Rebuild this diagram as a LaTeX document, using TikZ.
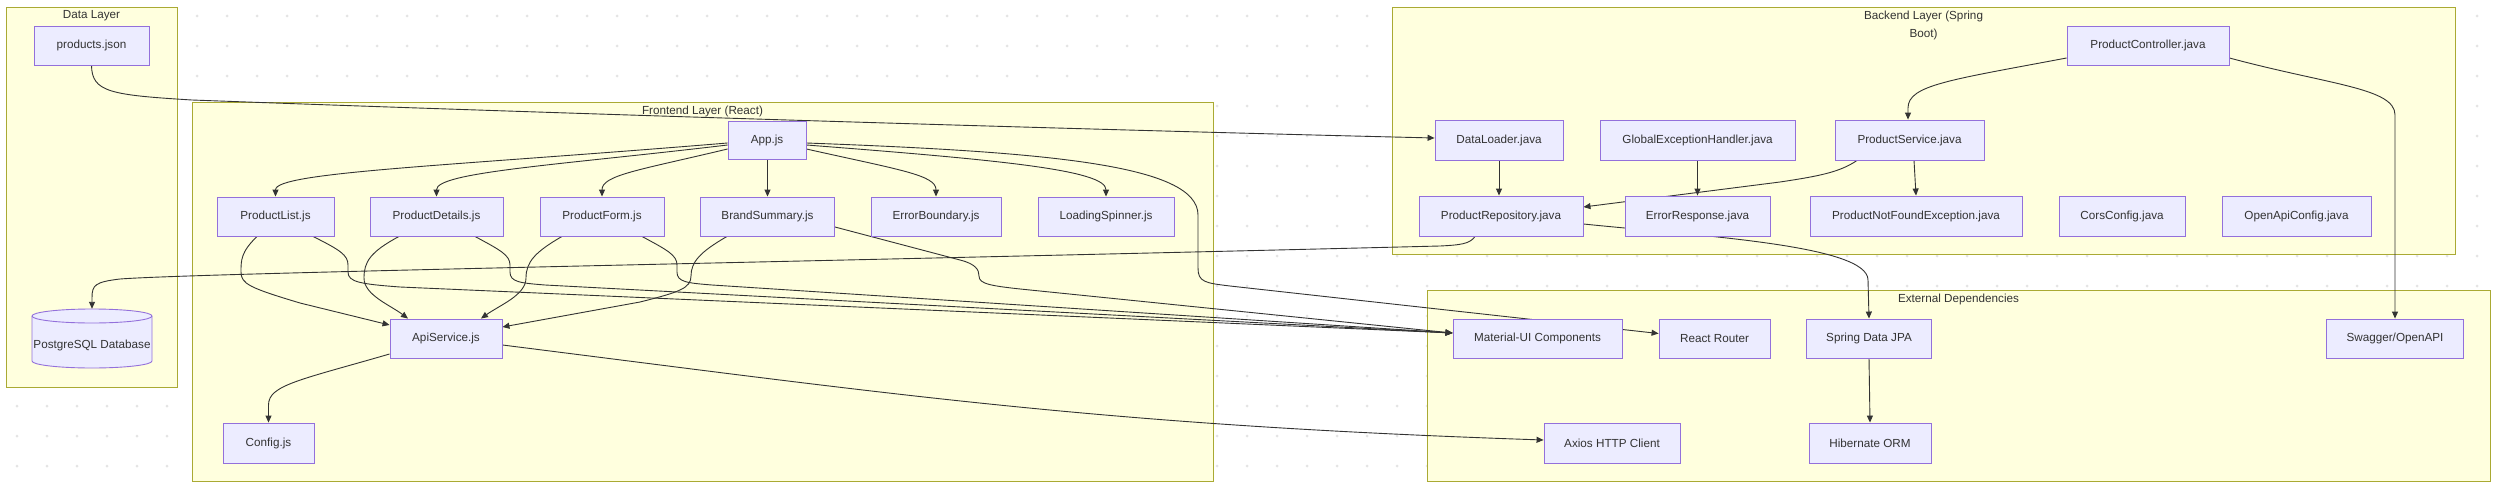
\documentclass[tikz,border=0pt]{standalone}
\usepackage{fontspec}
\setmainfont{Liberation Sans}
\usetikzlibrary{arrows.meta}
\definecolor{nodefill}{HTML}{ECECFF}
\definecolor{nodeline}{HTML}{9370DB}
\definecolor{clfill}{HTML}{FFFFDE}
\definecolor{clline}{HTML}{AAAA33}
\definecolor{edgecol}{HTML}{333333}
\definecolor{txt}{HTML}{333333}
\definecolor{dotcol}{HTML}{E4E4E4}
\pgfdeclarelayer{bg}
\pgfdeclarelayer{edgelayer}
\pgfsetlayers{bg,edgelayer,main}
\tikzset{
  lbl/.style={text=txt, font=\fontsize{11.7}{18}\selectfont},
  box/.style={lbl, draw=nodeline, fill=nodefill, line width=0.9pt, inner sep=0pt},
  cluster/.style={draw=clline, fill=clfill, line width=0.9pt, inner sep=0pt, anchor=north west},
  ctitle/.style={lbl, inner sep=0pt, align=center},
  edge/.style={draw=edgecol, line width=0.9pt, -{Triangle[length=7pt,width=6pt]}},
}
\begin{document}
\begin{tikzpicture}[x=1pt,y=-1pt]
\useasboundingbox (0,0) rectangle (2499,487);
\begin{pgfonlayer}{bg}
\fill[white] (0,0) rectangle (2499,487);
\foreach \x in {17,47,...,2477} \foreach \y in {16,46,...,466} \fill[dotcol] (\x,\y) circle[radius=1.5pt];
\node[cluster, minimum width=171pt, minimum height=380pt] (dataL) at (6,7) {};
\node[ctitle] (dataT) at (91.5,16) {Data Layer};
\node[cluster, minimum width=1021pt, minimum height=379pt] (frontL) at (192,102) {};
\node[ctitle] (frontT) at (702.5,111) {Frontend Layer (React)};
\node[cluster, minimum width=1063pt, minimum height=247pt] (backL) at (1392,7) {};
\node[ctitle] (backT) at (1923.5,25) {Backend Layer (Spring\\Boot)};
\node[cluster, minimum width=1063pt, minimum height=191pt] (extL) at (1427,290) {};
\node[ctitle] (extT) at (1958.5,299) {External Dependencies};
\end{pgfonlayer}

% nodes
\node[box, minimum width=115pt, minimum height=39pt] (pj) at (91.5,45.5) {products.json};
\node[box, minimum width=78pt, minimum height=38pt] (app) at (767,140) {App.js};
\node[box, minimum width=117pt, minimum height=39pt] (pl) at (275.5,216.5) {ProductList.js};
\node[box, minimum width=133pt, minimum height=39pt] (pd) at (436.5,216.5) {ProductDetails.js};
\node[box, minimum width=124pt, minimum height=39pt] (pf) at (602,216.5) {ProductForm.js};
\node[box, minimum width=134pt, minimum height=39pt] (bs) at (767.5,216.5) {BrandSummary.js};
\node[box, minimum width=130pt, minimum height=39pt] (eb) at (936,216.5) {ErrorBoundary.js};
\node[box, minimum width=136pt, minimum height=39pt] (ls) at (1106,216.5) {LoadingSpinner.js};
\node[box, minimum width=112pt, minimum height=39pt] (api) at (446,338.5) {ApiService.js};
\node[box, minimum width=91pt, minimum height=40pt] (cfg) at (268.5,443) {Config.js};
\node[box, minimum width=162pt, minimum height=39pt] (pc) at (2148,45.5) {ProductController.java};
\node[box, minimum width=128pt, minimum height=40pt] (dl) at (1499,140) {DataLoader.java};
\node[box, minimum width=195pt, minimum height=40pt] (geh) at (1697.5,140) {GlobalExceptionHandler.java};
\node[box, minimum width=149pt, minimum height=40pt] (ps) at (1909.5,140) {ProductService.java};
\node[box, minimum width=164pt, minimum height=40pt] (pr) at (1501,216) {ProductRepository.java};
\node[box, minimum width=145pt, minimum height=40pt] (er) at (1697.5,216) {ErrorResponse.java};
\node[box, minimum width=212pt, minimum height=40pt] (pnf) at (1916,216) {ProductNotFoundException.java};
\node[box, minimum width=126pt, minimum height=40pt] (cc) at (2122,216) {CorsConfig.java};
\node[box, minimum width=149pt, minimum height=40pt] (oac) at (2296.5,216) {OpenApiConfig.java};
\node[box, minimum width=169pt, minimum height=39pt] (mui) at (1537.5,338.5) {Material-UI Components};
\node[box, minimum width=111pt, minimum height=39pt] (rr) at (1714.5,338.5) {React Router};
\node[box, minimum width=124.5pt, minimum height=39pt] (sdj) at (1869,338.5) {Spring Data JPA};
\node[box, minimum width=137.5pt, minimum height=39pt] (sw) at (2395,338.5) {Swagger/OpenAPI};
\node[box, minimum width=136pt, minimum height=40pt] (ax) at (1612,443) {Axios HTTP Client};
\node[box, minimum width=122pt, minimum height=40pt] (hib) at (1870,443) {Hibernate ORM};

% cylinder
\node[inner sep=0pt, minimum width=120pt, minimum height=59pt] (pg) at (92,338.5) {};
\filldraw[fill=nodefill, draw=nodeline, line width=0.9pt] (32,316) -- (32,361) arc[start angle=180, end angle=360, x radius=60pt, y radius=7pt] -- (152,316) arc[start angle=0, end angle=180, x radius=60pt, y radius=7pt] -- cycle;
\draw[draw=nodeline, line width=0.9pt] (32,316) arc[start angle=180, end angle=360, x radius=60pt, y radius=7pt];
\node[lbl, inner sep=0pt] (pgtext) at (92,345) {PostgreSQL Database};

% edges
\begin{pgfonlayer}{edgelayer}
\path[edge] (pj.south) .. controls (92,92) and (110,95) .. (192,100) .. controls (600,115) and (1100,130) .. ([yshift=2pt]dl.west);
\path[edge] ([yshift=-3pt]app.west) .. controls (450,166) and (275.5,172) .. (pl.north);
\path[edge] ([yshift=-5pt]app.west) .. controls (560,165) and (436.5,172) .. (pd.north);
\path[edge] ([yshift=-9pt]app.west) .. controls (640,170) and (602,175) .. (pf.north);
\path[edge] ([xshift=0.5pt]app.south) -- (bs.north);
\path[edge] ([yshift=-9pt]app.east) .. controls (900,170) and (936,175) .. (eb.north);
\path[edge] ([yshift=-5pt]app.east) .. controls (1000,160) and (1106,170) .. (ls.north);
\path[edge] ([yshift=-3pt]app.east) .. controls (1050,152) and (1198,165) .. (1198,215) -- (1198,268) .. controls (1198,282) and (1205,283) .. (1230,286) -- ([yshift=5pt]rr.west);
\path[edge] ([xshift=-18.5pt]pl.south) .. controls (241,252) and (241,260) .. (241,272) .. controls (241,284) and (250,288) .. (300,303) -- ([yshift=13.5pt]api.west);
\path[edge] ([xshift=37.5pt]pl.south) .. controls (340,250) and (348,255) .. (348,265) -- (348,272) .. controls (348,282) and (360,284) .. (400,287) -- ([yshift=5.5pt]mui.west);
\path[edge] ([xshift=-37.5pt]pd.south) .. controls (370,252) and (364,262) .. (364,278) .. controls (364,295) and (390,305) .. ([xshift=-38pt]api.north);
\path[edge] ([xshift=38.5pt]pd.south) .. controls (500,250) and (510,255) .. (510,265) -- (510,272) .. controls (510,282) and (520,283) .. (545,285) -- ([yshift=5.5pt]mui.west);
\path[edge] ([xshift=-40pt]pf.south) .. controls (535,252) and (526,262) .. (526,278) .. controls (526,295) and (500,305) .. ([xshift=35pt]api.north);
\path[edge] ([xshift=40pt]pf.south) .. controls (667,250) and (677,255) .. (677,265) -- (677,272) .. controls (677,282) and (687,283) .. (712,285) -- ([yshift=5.5pt]mui.west);
\path[edge] ([xshift=-40.5pt]bs.south) .. controls (700,252) and (691,262) .. (691,276) .. controls (691,288) and (680,292) .. (640,302) -- ([yshift=11.5pt]api.east);
\path[edge] ([yshift=-10.5pt]bs.east) -- (960,260) .. controls (976,264) and (979,270) .. (979,276) .. controls (979,284) and (990,286) .. (1030,290) -- ([yshift=5.5pt]mui.west);
\path[edge] ([yshift=-15.5pt]api.west) .. controls (300,380) and (268.5,385) .. (268.5,405) -- (cfg.north);
\path[edge] ([yshift=-6.5pt]api.east) .. controls (900,395) and (1100,425) .. ([yshift=3pt]ax.west);
\path[edge] ([yshift=-12.5pt]pc.west) .. controls (1950,80) and (1908,85) .. (1908,108) -- ([xshift=-1.5pt]ps.north);
\path[edge] ([yshift=-12.5pt]pc.east) .. controls (2330,85) and (2395,88) .. (2395,115) -- (sw.north);
\path[edge] ([xshift=-52.5pt]ps.south) .. controls (1840,172) and (1820,176) .. (1780,182) -- ([yshift=9pt]pr.east);
\path[edge] ([xshift=4.5pt]ps.south) -- (pnf.north);
\path[edge] (dl.south) -- ([xshift=-2pt]pr.north);
\path[edge] (geh.south) -- (er.north);
\path[edge] ([xshift=-26pt]pr.south) .. controls (1470,244) and (1460,245) .. (1440,246) .. controls (800,262) and (200,273) .. (120,279) .. controls (95,282) and (92,285) .. (92,298) -- (pg.north);
\path[edge] ([yshift=-8pt]pr.east) .. controls (1700,236) and (1868,245) .. (1868,280) -- (sdj.north);
\path[edge] (sdj.south) -- (hib.north);
\end{pgfonlayer}
\end{tikzpicture}
\end{document}
